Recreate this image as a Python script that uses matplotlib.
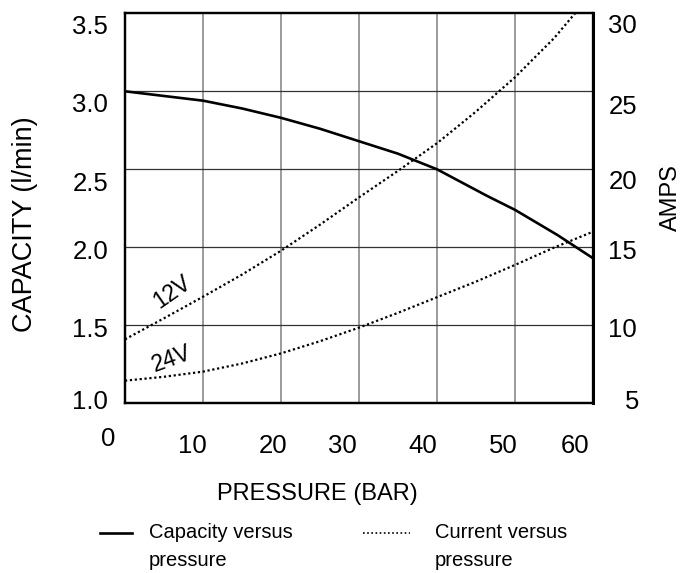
import matplotlib
matplotlib.use("Agg")
import matplotlib.pyplot as plt
from matplotlib.lines import Line2D
from matplotlib.transforms import ScaledTranslation

plt.rcParams['font.family'] = ['Liberation Sans', 'DejaVu Sans']

# Kapasitet (l/min) mot trykk (bar)
cap_pressure = [0, 5, 10, 15, 20, 25, 30, 35, 40, 46.4, 50, 55.4, 60]
capacity = [3.00, 2.97, 2.94, 2.89, 2.83, 2.76, 2.68, 2.60, 2.50, 2.33, 2.24, 2.08, 1.93]

# Strøm (A) mot trykk, 12V og 24V
amp12_pressure = [0, 5, 10, 15, 20, 25, 30, 35, 40, 45, 50, 55, 57.7]
amps_12v = [9.1, 10.45, 11.83, 13.25, 14.78, 16.45, 18.2, 19.9, 21.67, 23.7, 25.9, 28.4, 30.0]
amp24_pressure = [0, 5, 10, 15, 20, 25, 30, 35, 40, 45, 50, 55, 60]
amps_24v = [6.45, 6.7, 7.03, 7.55, 8.2, 8.98, 9.85, 10.8, 11.8, 12.8, 13.87, 14.98, 16.0]

x_ticks = [0, 10, 20, 30, 40, 50, 60]
cap_ticks = [1.0, 1.5, 2.0, 2.5, 3.0, 3.5]
amp_ticks = [5, 10, 15, 20, 25, 30]

fig = plt.figure(figsize=(6.88, 5.73), dpi=100)
ax = fig.add_axes([125/688, 1 - 403.3/573, 468/688, 390/573])
ax2 = ax.twinx()

# rutenett: loddrette grå, vannrette mørke
for x in x_ticks[1:-1]:
    ax.axvline(x, color='#808080', lw=1.1, zorder=1)
for y in cap_ticks[1:-1]:
    ax.axhline(y, color='#333333', lw=0.9, zorder=1)

dots = (0, (1, 1.2))
ax.plot(cap_pressure, capacity, color='black', lw=1.9, zorder=3)
ax2.plot(amp12_pressure, amps_12v, color='black', lw=1.6, ls=dots)
ax2.plot(amp24_pressure, amps_24v, color='black', lw=1.6, ls=dots)

ax2.text(6.03, 12.13, '12V', fontsize=16.5, rotation=35, ha='center', va='center', rotation_mode='anchor')
ax2.text(6.03, 7.84, '24V', fontsize=16.5, rotation=20, ha='center', va='center', rotation_mode='anchor')

ax.set_xlim(0, 60)
ax.set_ylim(1.0, 3.5)
ax2.set_ylim(5, 30)

ax.set_xticks(x_ticks)
ax.set_xticklabels([str(v) for v in x_ticks])
ax.set_yticks(cap_ticks)
ax.set_yticklabels(['%.1f' % v for v in cap_ticks])
ax2.set_yticks(amp_ticks)
ax2.set_yticklabels([str(v) for v in amp_ticks])

ax.tick_params(axis='both', length=0, labelsize=18.5)
ax.tick_params(axis='y', pad=12)
ax.tick_params(axis='x', pad=22)
ax2.tick_params(axis='y', length=0, labelsize=18.5, pad=11)

for a in (ax, ax2):
    for s in a.spines.values():
        s.set_linewidth(1.6)
ax2.spines['right'].set_linewidth(2.2)

# etikettene i originalen er plassert litt skjevt, flytter dem i piksler
def shift(label, dx, dy):
    label.set_transform(label.get_transform() + ScaledTranslation(dx/100, -dy/100, fig.dpi_scale_trans))

x_dx = [-17, -10.7, -8, -17, -14, -12, -18]
x_dy = [-7, 0, 0, 0, 0, 0, 0]
for lab, dx, dy in zip(ax.get_xticklabels(), x_dx, x_dy):
    shift(lab, dx, dy)
y_dy = [-4, 2, 2, 12, 11, 11]
for lab, dy in zip(ax.get_yticklabels(), y_dy):
    shift(lab, 0, dy)
r_dy = [-4, 2, 2, 10, 13, 10]
r_dx = [17, 0, 0, 0, 0, 0]
for lab, dx, dy in zip(ax2.get_yticklabels(), r_dx, r_dy):
    shift(lab, dx, dy)

ax.set_xlabel('PRESSURE (BAR)', fontsize=17)
ax.xaxis.set_label_coords((317.5 - 125) / 468, (403.3 - 500) / 390)
ax.xaxis.label.set_va('baseline')
ax.set_ylabel('CAPACITY (l/min)', fontsize=19.5)
ax.yaxis.set_label_coords((25 - 125) / 468, (403.3 - 224) / 390)
ax.yaxis.label.set_va('center')
ax2.set_ylabel('AMPS', fontsize=17)
ax2.yaxis.set_label_coords((671 - 125) / 468, (403.3 - 198) / 390)
ax2.yaxis.label.set_va('center')

# forklaring under diagrammet, tegnet for hand for a fa strek pa forste linje
def px(x, y):
    return x / 688, 1 - y / 573

for (x0, x1), style, lw, tx, label in [((100, 132), '-', 1.9, 149, 'Capacity versus\npressure'),
                                      ((363, 410), (0, (1, 1.5)), 1.2, 435, 'Current versus\npressure')]:
    (fx0, fy), (fx1, _) = px(x0, 533), px(x1, 533)
    fig.add_artist(Line2D([fx0, fx1], [fy, fy], color='black', lw=lw, ls=style))
    fig.text(*px(tx, 546.5), label, fontsize=14.5, ha='left', va='center', linespacing=1.55)

fig.savefig('out.png', dpi=100)
